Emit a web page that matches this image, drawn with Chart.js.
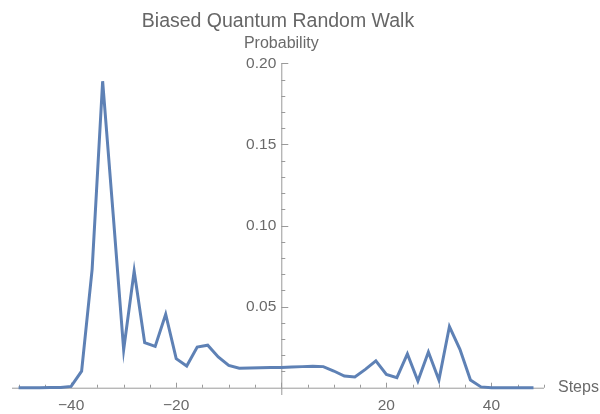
<!DOCTYPE html>
<html>
<head>
<meta charset="utf-8">
<script src="https://cdn.jsdelivr.net/npm/chart.js@4.4.1/dist/chart.umd.min.js"></script>
<style>
    html, body { margin: 0; padding: 0; background: #fff; }
    #wrap { width: 600px; height: 414px; }
</style>
</head>
<body>
<div id="wrap"><canvas id="chart"></canvas></div>
<script>
const steps = [
    -50, -48, -46, -44, -42, -40, -38, -36, -34, -32,
    -30, -28, -26, -24, -22, -20, -18, -16, -14, -12,
    -10, -8, -6, -4, -2, 0, 2, 4, 6, 8,
    10, 12, 14, 16, 18, 20, 22, 24, 26, 28,
    30, 32, 34, 36, 38, 40, 42, 44, 46, 48
];
const probability = [
    0, 0, 0, 0.0001, 0.0002, 0.0008, 0.0102, 0.073, 0.189, 0.107,
    0.0235, 0.072, 0.0278, 0.0255, 0.0453, 0.0179, 0.0134, 0.0251, 0.0262, 0.019,
    0.0138, 0.012, 0.0121, 0.0123, 0.0124, 0.0125, 0.0127, 0.013, 0.0132, 0.013,
    0.0103, 0.0072, 0.0066, 0.0113, 0.0165, 0.0082, 0.0062, 0.0208, 0.0041, 0.022,
    0.0047, 0.0377, 0.0237, 0.0047, 0.0005, 0, 0, 0, 0, 0
];
const xTickLabels = [-40, -20, 20, 40];
const yTickLabels = [0.05, 0.10, 0.15, 0.20];

const axisColor = '#9a9a9a';
const labelColor = '#6a6a6a';
const fontFamily = '"Liberation Sans", Arial, sans-serif';

// draws Mathematica-style axes crossing at the origin
const originAxes = {
    id: 'originAxes',
    beforeDatasetsDraw(chart) {
        const { ctx, scales: { x, y } } = chart;
        const x0 = x.getPixelForValue(0);
        const y0 = y.getPixelForValue(0);
        ctx.save();
        ctx.strokeStyle = axisColor;
        ctx.lineWidth = 1;

        ctx.beginPath();
        ctx.moveTo(x.left, y0 + 0.5);
        ctx.lineTo(x.right, y0 + 0.5);
        ctx.moveTo(x0 + 0.5, y.top);
        ctx.lineTo(x0 + 0.5, y.bottom);
        for (let v = -50; v <= 50; v += 5) {
            const px = Math.round(x.getPixelForValue(v)) + 0.5;
            const len = v % 20 === 0 ? 5 : 3;
            ctx.moveTo(px, y0);
            ctx.lineTo(px, y0 - len);
        }
        for (let i = 1; i <= 20; i++) {
            const py = Math.round(y.getPixelForValue(i / 100)) + 0.5;
            const len = i % 5 === 0 ? 7 : 4;
            ctx.moveTo(x0, py);
            ctx.lineTo(x0 + len, py);
        }
        ctx.stroke();

        ctx.fillStyle = labelColor;
        ctx.font = '15.5px ' + fontFamily;
        ctx.textAlign = 'center';
        ctx.textBaseline = 'middle';
        xTickLabels.forEach(v => {
            const txt = v < 0 ? '\u2212' + Math.abs(v) : String(v);
            ctx.fillText(txt, x.getPixelForValue(v), y0 + 18);
        });
        ctx.textAlign = 'right';
        yTickLabels.forEach(v => {
            ctx.fillText(v.toFixed(2), x0 - 5, y.getPixelForValue(v));
        });

        ctx.font = '16px ' + fontFamily;
        ctx.textAlign = 'center';
        ctx.fillText('Probability', x0, y.top - 20);
        ctx.textAlign = 'left';
        ctx.fillText('Steps', x.right + 14, y0);
        ctx.restore();
    }
};

new Chart(document.getElementById('chart'), {
    type: 'line',
    data: {
        datasets: [{
            data: steps.map((s, i) => ({ x: s, y: probability[i] })),
            borderColor: '#5E81B5',
            borderWidth: 3,
            pointRadius: 0,
            tension: 0,
            fill: false
        }]
    },
    options: {
        responsive: true,
        maintainAspectRatio: false,
        animation: false,
        layout: {
            padding: { left: 12, right: 56, top: 0, bottom: 19 }
        },
        scales: {
            x: { type: 'linear', min: -51.25, max: 50, display: false },
            y: { type: 'linear', min: -0.0045, max: 0.2, display: false }
        },
        plugins: {
            legend: { display: false },
            tooltip: { enabled: false },
            title: {
                display: true,
                text: 'Biased Quantum Random Walk',
                color: '#666666',
                font: { family: fontFamily, size: 19.5, weight: 'normal' },
                padding: { top: 10, bottom: 30 }
            }
        }
    },
    plugins: [originAxes]
});
</script>
</body>
</html>
